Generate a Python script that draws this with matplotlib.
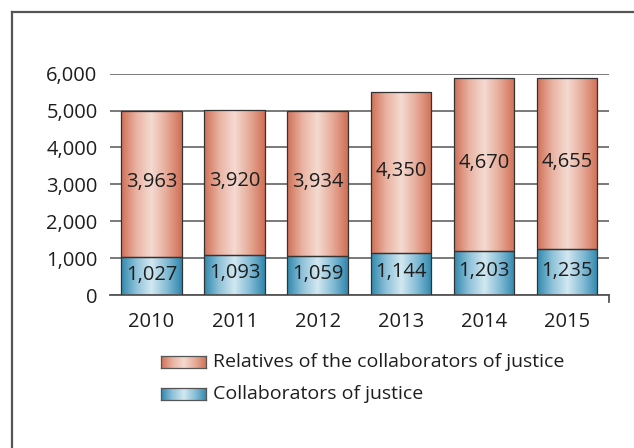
#!/usr/bin/env python3
"""Stacked bar chart: collaborators of justice and their relatives, 2010-2015."""

import numpy as np
import matplotlib
matplotlib.use("Agg")
import matplotlib.pyplot as plt
from matplotlib.colors import LinearSegmentedColormap
from matplotlib.lines import Line2D

years = ["2010", "2011", "2012", "2013", "2014", "2015"]
collaborators = [1027, 1093, 1059, 1144, 1203, 1235]
relatives = [3963, 3920, 3934, 4350, 4670, 4655]

legend_labels = ["Relatives of the collaborators of justice", "Collaborators of justice"]

plt.rcParams['font.family'] = ['Open Sans', 'DejaVu Sans']

red_cmap = LinearSegmentedColormap.from_list("red", ["#d06f55", "#e9b3a2", "#f4dad1", "#e6aa97", "#d06f55"])
blue_cmap = LinearSegmentedColormap.from_list("blue", ["#2f87ad", "#8fc2d9", "#d2e8f1", "#86bdd6", "#2f87ad"])

gradient = np.linspace(0, 1, 256).reshape(1, -1)
text_color = '#1e1e1e'


def fill_gradient(ax, bars, cmap):
    """Paint a horizontal gradient inside each bar."""
    for bar in bars:
        x0, y0 = bar.get_x(), bar.get_y()
        w, h = bar.get_width(), bar.get_height()
        im = ax.imshow(gradient, cmap=cmap, aspect='auto',
                       extent=[x0, x0 + w, y0, y0 + h], zorder=2,
                       interpolation='bilinear')
        im.set_clip_path(bar)


fig = plt.figure(figsize=(6.34, 4.48), dpi=100)
ax = fig.add_axes([110 / 634, 1 - 295 / 448, 498.6 / 634, 221.3 / 448])

x = np.arange(len(years))
width = 0.73

bars_low = ax.bar(x, collaborators, width, facecolor='none', edgecolor='#333333',
                  linewidth=0.9, zorder=3)
bars_high = ax.bar(x, relatives, width, bottom=collaborators, facecolor='none',
                   edgecolor='#333333', linewidth=0.9, zorder=3)
fill_gradient(ax, bars_low, blue_cmap)
fill_gradient(ax, bars_high, red_cmap)

# Value labels in the middle of each segment
for i in range(len(years)):
    ax.text(x[i], collaborators[i] / 2 + 40, f"{collaborators[i]:,}",
            ha='center', va='center', fontsize=14.5, color=text_color, zorder=4)
    ax.text(x[i], collaborators[i] + relatives[i] / 2 + 50, f"{relatives[i]:,}",
            ha='center', va='center', fontsize=14.5, color=text_color, zorder=4)

ax.set_xlim(-0.5, len(years) - 0.5)
ax.set_ylim(0, 6000)
ax.set_yticks(range(0, 7000, 1000))
ax.set_yticklabels([f"{v:,}" for v in range(0, 7000, 1000)])
ax.set_xticks(x)
ax.set_xticklabels(years)
ax.tick_params(axis='y', length=0, pad=9, labelsize=14.5, labelcolor=text_color)
ax.tick_params(axis='x', length=0, pad=12, labelsize=14.5, labelcolor=text_color)

ax.yaxis.grid(True, color='#6e6e6e', linewidth=1.3)
ax.set_axisbelow(True)
for side in ['left', 'right', 'top']:
    ax.spines[side].set_visible(False)
ax.spines['bottom'].set_color('#555555')
ax.spines['bottom'].set_linewidth(1.3)
ax.set_facecolor('none')

# small tick at the right end of the category axis
ax.plot([1, 1], [0, -0.03], transform=ax.transAxes, color='#555555',
        linewidth=1.3, clip_on=False)

# Legend swatches drawn by hand with the same gradients
for (cmap, top), label in zip([(red_cmap, 356), (blue_cmap, 388)], legend_labels):
    sax = fig.add_axes([161 / 634, 1 - (top + 12) / 448, 45 / 634, 12 / 448])
    sax.imshow(gradient, cmap=cmap, aspect='auto', interpolation='bilinear')
    sax.set_xticks([])
    sax.set_yticks([])
    for sp in sax.spines.values():
        sp.set_color('#555555')
        sp.set_linewidth(0.9)
    fig.text(213 / 634, 1 - (top + 6) / 448, label, ha='left', va='center',
             fontsize=14, color=text_color)

# outer frame (only top and left are inside the picture)
fig.add_artist(Line2D([11.7 / 634, 11.7 / 634], [0, 1 - 12.5 / 448],
                      color='#555555', linewidth=1.6))
fig.add_artist(Line2D([11.7 / 634, 1], [1 - 12.5 / 448, 1 - 12.5 / 448],
                      color='#555555', linewidth=1.6))

fig.savefig('out.png', dpi=100)
